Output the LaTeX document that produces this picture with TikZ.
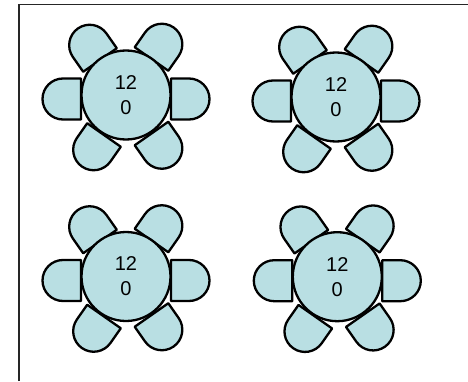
\documentclass[tikz,border=0pt]{standalone}
\usepackage{fontspec}
\setmainfont{Liberation Sans}
\definecolor{seat}{HTML}{B9DFE3}
\tikzset{
  outline/.style={draw=black,line width=2.3pt,line join=round},
  frameline/.style={draw=black!85,line width=1.7pt},
  chair/.pic={\path[outline,fill=seat] (0,-20.5) -- (18,-20.5) arc[start angle=-90,end angle=90,radius=20.5] -- (0,20.5) -- cycle;},
  tabletop/.style={circle,outline,fill=seat,minimum size=89pt,inner sep=0pt,align=center,font=\fontsize{20}{25}\selectfont,text width=60pt}
}
\begin{document}
\begin{tikzpicture}[x=1pt,y=1pt]
\useasboundingbox (0,0) rectangle (468,381);
\fill[white] (0,0) rectangle (468,381);
\coordinate (fa) at (19,0);
\coordinate (fb) at (19,376.5);
\coordinate (fc) at (468,376.5);
\draw[frameline] (fa) -- (fb) -- (fc);
\foreach \n/\cx/\cy in {a/126/286,b/336/284,c/126/104.5,d/337.3/104.3}{
  \begin{scope}[shift={(\cx,\cy)}]
    \pic[rotate=180] at (-45,-4) {chair};
    \pic at (45,-4) {chair};
    \pic[rotate=125] at (-26,35) {chair};
    \pic[rotate=55] at (25.5,36) {chair};
    \pic[rotate=235] at (-22,-40) {chair};
    \pic[rotate=305] at (25.5,-38.5) {chair};
    \node[tabletop] (table\n) at (0,0) {12\\0};
  \end{scope}
}
\end{tikzpicture}
\end{document}
